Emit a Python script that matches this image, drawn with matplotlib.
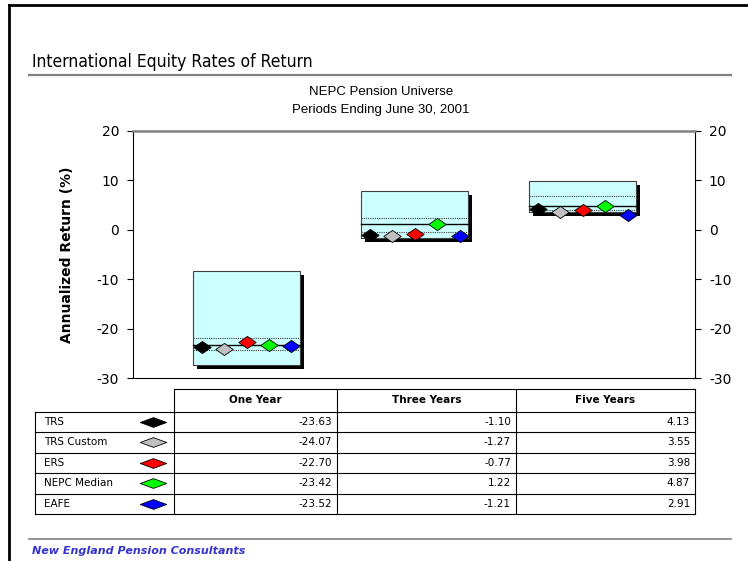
import numpy as np
import matplotlib
matplotlib.use("Agg")
import matplotlib.pyplot as plt
import matplotlib.patheffects as pe
from matplotlib.patches import Rectangle
from matplotlib.lines import Line2D
from matplotlib.path import Path

plt.rcParams['axes.unicode_minus'] = False

periods = ['One Year', 'Three Years', 'Five Years']
names = ['TRS', 'TRS Custom', 'ERS', 'NEPC Median', 'EAFE']
colors = ['black', '#C0C0C0', 'red', '#00FF00', 'blue']

trs = [-23.63, -1.10, 4.13]
trs_custom = [-24.07, -1.27, 3.55]
ers = [-22.70, -0.77, 3.98]
nepc_median = [-23.42, 1.22, 4.87]
eafe = [-23.52, -1.21, 2.91]
series = [trs, trs_custom, ers, nepc_median, eafe]

# universe percentile ranges (5th / 25th / median / 75th / 95th)
p05 = [-8.3, 7.85, 9.9]
p25 = [-22.0, 2.3, 6.8]
p50 = [-23.42, 1.22, 4.87]
p75 = [-24.4, -0.5, 4.0]
p95 = [-27.4, -1.6, 3.55]

W, H = 748, 561
fig = plt.figure(figsize=(W / 100, H / 100), dpi=100)

def fx(x):
    return x / W

def fy(y):
    return 1 - y / H

# wide diamond markers
diam = Path([(-1, 0), (0, 0.7), (1, 0), (0, -0.7), (-1, 0)],
            [Path.MOVETO, Path.LINETO, Path.LINETO, Path.LINETO, Path.CLOSEPOLY])
flat = Path([(-1, 0), (0, 0.37), (1, 0), (0, -0.37), (-1, 0)],
            [Path.MOVETO, Path.LINETO, Path.LINETO, Path.LINETO, Path.CLOSEPOLY])

# page frame
fig.add_artist(Line2D([fx(9), fx(9)], [fy(5), fy(561)], color='black', lw=2))
fig.add_artist(Line2D([fx(9), fx(748)], [fy(5), fy(5)], color='black', lw=2))

fig.text(fx(32), fy(67), 'International Equity Rates of Return',
         family='DejaVu Sans', fontstretch='condensed', fontsize=12.5,
         ha='left', va='baseline')
fig.add_artist(Line2D([fx(29), fx(731)], [fy(75), fy(75)], color='#808080', lw=1.6))
fig.text(fx(381), fy(92), 'NEPC Pension Universe', family='Liberation Sans',
         fontsize=9.5, ha='center', va='center')
fig.text(fx(381), fy(110), 'Periods Ending June 30, 2001', family='Liberation Sans',
         fontsize=9.5, ha='center', va='center')

ax = fig.add_axes([fx(133), fy(378), fx(695) - fx(133), fy(131) - fy(378)])
ax.set_xlim(0, 3)
ax.set_ylim(-30, 20)
ax.set_yticks([20, 10, 0, -10, -20, -30])
ax.set_xticks([])
ax.tick_params(axis='y', direction='out', length=4, width=0.8, labelsize=10,
               left=True, right=True, labelleft=True, labelright=True, pad=6)
for s in ['left', 'right', 'bottom']:
    ax.spines[s].set_color('black')
    ax.spines[s].set_linewidth(0.8)
ax.spines['top'].set_color('#808080')
ax.spines['top'].set_linewidth(1.8)
ax.set_ylabel('Annualized Return (%)', fontsize=10, fontweight='bold', labelpad=16)

centers = [0.606, 1.503, 2.400]
bw = 0.571
step = 0.12
for i, c in enumerate(centers):
    box = Rectangle((c - bw / 2, p95[i]), bw, p05[i] - p95[i], facecolor='#CCFFFF',
                    edgecolor='#404040', lw=0.8, zorder=2)
    box.set_path_effects([pe.SimplePatchShadow(offset=(3, -3), shadow_rgbFace='black', alpha=1),
                          pe.Normal()])
    ax.add_patch(box)
    x0, x1 = c - bw / 2, c + bw / 2
    ax.plot([x0, x1], [p25[i]] * 2, color='#404040', lw=0.8, ls=(0, (1, 1)), zorder=3)
    ax.plot([x0, x1], [p75[i]] * 2, color='#404040', lw=0.8, ls=(0, (1, 1)), zorder=3)
    ax.plot([x0, x1], [p50[i]] * 2, color='black', lw=1.0, zorder=3)
    for k, (vals, col) in enumerate(zip(series, colors)):
        ax.plot(c + (k - 2) * step, vals[i], marker=diam, markersize=12.5,
                markerfacecolor=col, markeredgecolor='black', markeredgewidth=0.6,
                ls='none', zorder=5, clip_on=False)

# data table under the chart
tf = dict(family='DejaVu Sans', fontsize=7.5)
cols = [174, 337, 516, 695]
top_h, row0, rh = 389, 411.5, 20.5
lab_l = 35
bottom = row0 + rh * len(names)
lw = 0.8
for x in cols:
    fig.add_artist(Line2D([fx(x)] * 2, [fy(top_h), fy(bottom)], color='black', lw=lw))
fig.add_artist(Line2D([fx(cols[0]), fx(cols[-1])], [fy(top_h)] * 2, color='black', lw=lw))
fig.add_artist(Line2D([fx(lab_l)] * 2, [fy(row0), fy(bottom)], color='black', lw=lw))
for r in range(len(names) + 1):
    y = row0 + rh * r
    fig.add_artist(Line2D([fx(lab_l), fx(cols[-1])], [fy(y)] * 2, color='black', lw=lw))
for j, p in enumerate(periods):
    fig.text(fx((cols[j] + cols[j + 1]) / 2), fy((top_h + row0) / 2), p,
             ha='center', va='center', fontweight='bold', **tf)
for r, (n, vals, col) in enumerate(zip(names, series, colors)):
    yc = fy(row0 + rh * (r + 0.5))
    fig.text(fx(44), yc, n, ha='left', va='center', **tf)
    fig.add_artist(Line2D([fx(153)], [yc], marker=flat, markersize=19,
                          markerfacecolor=col, markeredgecolor='black',
                          markeredgewidth=0.6, ls='none'))
    for j, v in enumerate(vals):
        fig.text(fx(cols[j + 1] - 5), yc, f'{v:.2f}', ha='right', va='center', **tf)

fig.add_artist(Line2D([fx(29), fx(731)], [fy(539)] * 2, color='#808080', lw=1.2))
fig.text(fx(32), fy(551), 'New England Pension Consultants', color='#3333CC',
         fontsize=8, fontweight='bold', fontstyle='italic', ha='left', va='center')

fig.savefig('out.png', dpi=100)
